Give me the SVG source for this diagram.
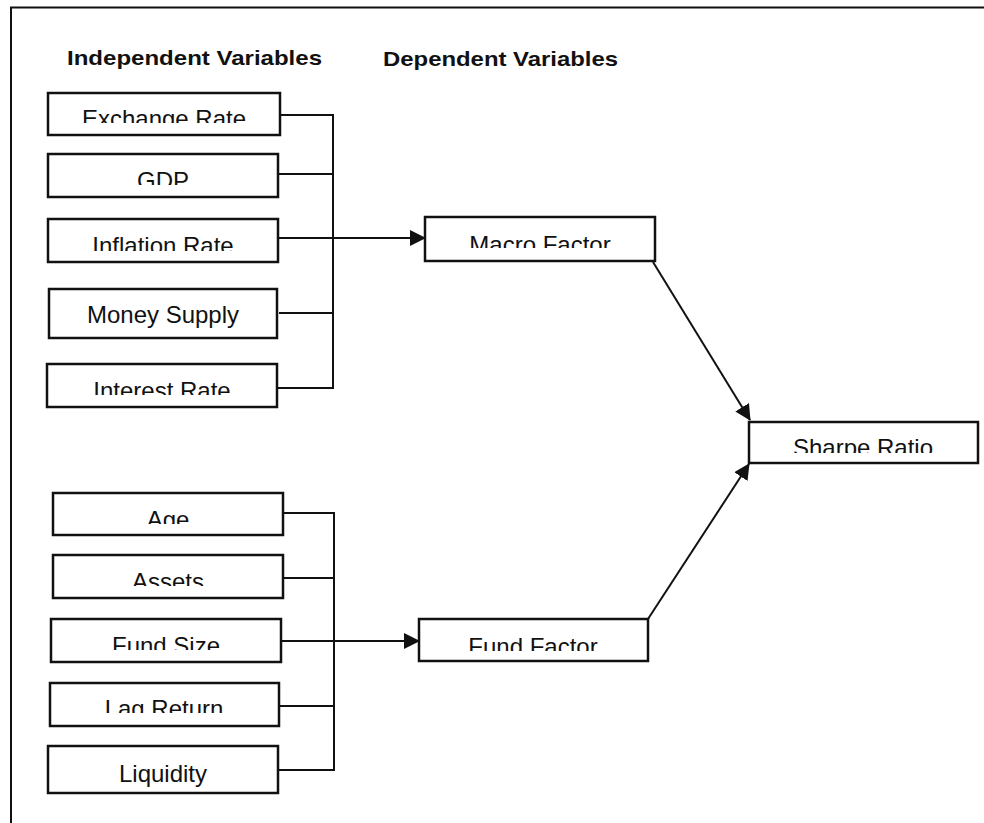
<svg xmlns="http://www.w3.org/2000/svg" width="984" height="823" viewBox="0 0 984 823">
<style>
.box{fill:#fff;stroke:#111;stroke-width:2.5}
.lbl{font-family:"Liberation Sans",Arial,sans-serif;font-size:24px;fill:#111;text-anchor:middle}
.hdr{font-family:"Liberation Sans",Arial,sans-serif;font-size:21px;font-weight:bold;fill:#111}
.ln{fill:none;stroke:#111;stroke-width:2}
</style>
<defs>
<marker id="ah" markerUnits="userSpaceOnUse" markerWidth="16" markerHeight="16" viewBox="0 0 16 16" refX="15" refY="8" orient="auto">
<path d="M0,0 L16,8 L0,16 Z" fill="#111"/>
</marker>
<clipPath id="c1"><rect x="40" y="90" width="250" height="33"/></clipPath>
<clipPath id="c2"><rect x="40" y="150" width="250" height="35"/></clipPath>
<clipPath id="c3"><rect x="40" y="215" width="250" height="36"/></clipPath>
<clipPath id="c5"><rect x="40" y="360" width="250" height="35"/></clipPath>
<clipPath id="c6"><rect x="40" y="490" width="250" height="34"/></clipPath>
<clipPath id="c7"><rect x="40" y="550" width="250" height="36"/></clipPath>
<clipPath id="c8"><rect x="40" y="615" width="250" height="35"/></clipPath>
<clipPath id="c9"><rect x="40" y="680" width="250" height="33"/></clipPath>
<clipPath id="cm"><rect x="420" y="214" width="240" height="34"/></clipPath>
<clipPath id="cs"><rect x="745" y="419" width="240" height="34"/></clipPath>
<clipPath id="cf"><rect x="415" y="616" width="240" height="35"/></clipPath>
</defs>
<path class="ln" d="M11,830 V7.5 H990" stroke-width="2.5"/>
<text class="hdr" x="67" y="65" textLength="255" lengthAdjust="spacingAndGlyphs">Independent Variables</text>
<text class="hdr" x="383" y="66" textLength="235" lengthAdjust="spacingAndGlyphs">Dependent Variables</text>
<g id="connectors">
<path class="ln" d="M280,115 H333 V388 H277 M278,174 H333 M279,313 H333"/>
<path class="ln" d="M278,238 H425" marker-end="url(#ah)"/>
<path class="ln" d="M283,513 H334 V770 H278 M283,578 H334 M279,706 H334"/>
<path class="ln" d="M281,641 H419" marker-end="url(#ah)"/>
<path class="ln" d="M653,262 L750,420" marker-end="url(#ah)"/>
<path class="ln" d="M648,619 L749,464" marker-end="url(#ah)"/>
</g>
<g id="exchange-rate"><rect class="box" x="48" y="93" width="232" height="42"/><text class="lbl" x="164" y="127" clip-path="url(#c1)">Exchange Rate</text></g>
<g id="gdp"><rect class="box" x="48" y="154" width="230" height="43"/><text class="lbl" x="163" y="189" clip-path="url(#c2)">GDP</text></g>
<g id="inflation-rate"><rect class="box" x="48" y="219" width="230" height="43"/><text class="lbl" x="163" y="254" clip-path="url(#c3)">Inflation Rate</text></g>
<g id="money-supply"><rect class="box" x="49" y="289" width="228" height="49"/><text class="lbl" x="163" y="323">Money Supply</text></g>
<g id="interest-rate"><rect class="box" x="47" y="364" width="230" height="43"/><text class="lbl" x="162" y="399" clip-path="url(#c5)">Interest Rate</text></g>
<g id="macro-factor"><rect class="box" x="425" y="217" width="230" height="44"/><text class="lbl" x="540" y="253" clip-path="url(#cm)">Macro Factor</text></g>
<g id="sharpe-ratio"><rect class="box" x="749" y="422" width="229" height="41"/><text class="lbl" x="863" y="456" clip-path="url(#cs)">Sharpe Ratio</text></g>
<g id="age"><rect class="box" x="53" y="493" width="230" height="42"/><text class="lbl" x="168" y="528" clip-path="url(#c6)">Age</text></g>
<g id="assets"><rect class="box" x="53" y="555" width="230" height="43"/><text class="lbl" x="168" y="590" clip-path="url(#c7)">Assets</text></g>
<g id="fund-size"><rect class="box" x="51" y="619" width="230" height="43"/><text class="lbl" x="166" y="654" clip-path="url(#c8)">Fund Size</text></g>
<g id="lag-return"><rect class="box" x="50" y="683" width="229" height="43"/><text class="lbl" x="164" y="717" clip-path="url(#c9)">Lag Return</text></g>
<g id="liquidity"><rect class="box" x="48" y="746" width="230" height="47"/><text class="lbl" x="163" y="782">Liquidity</text></g>
<g id="fund-factor"><rect class="box" x="419" y="619" width="229" height="42"/><text class="lbl" x="533" y="655" clip-path="url(#cf)">Fund Factor</text></g>
</svg>
